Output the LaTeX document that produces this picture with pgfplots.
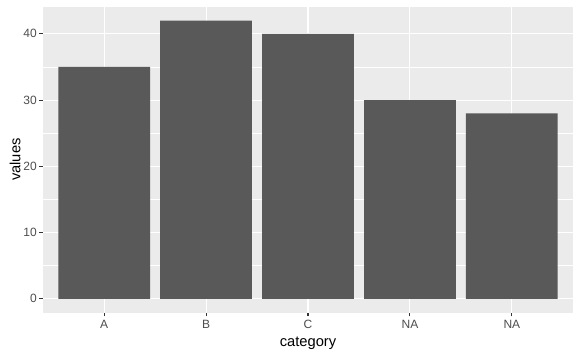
\documentclass[border=0pt]{standalone}
\usepackage{pgfplots}
\pgfplotsset{compat=1.18}
\usepackage{fontspec}
\setmainfont{Liberation Sans}
\definecolor{panelbg}{HTML}{EBEBEB}
\definecolor{barfill}{HTML}{595959}
\definecolor{ticktext}{HTML}{4D4D4D}
\definecolor{tickline}{HTML}{333333}
\begin{document}
\begin{tikzpicture}[x=1pt,y=1pt]
\begin{axis}[
  at={(0,0)}, anchor=south west,
  scale only axis,
  width=530pt, height=306pt,
  xmin=0.4, xmax=5.6,
  ymin=-2.1, ymax=44.1,
  xtick={1,2,3,4,5},
  xticklabels={A,B,C,NA,NA},
  ytick={0,10,20,30,40},
  minor ytick={5,15,25,35},
  xtick pos=bottom, ytick pos=left,
  xmajorgrids, ymajorgrids, yminorgrids,
  major grid style={white, line width=1.07pt},
  minor grid style={white, line width=0.53pt},
  axis background/.style={fill=panelbg},
  axis line style={draw=none},
  tick align=outside,
  major tick length=3.7pt,
  minor tick length=0pt,
  tick style={tickline, line width=1.07pt},
  ticklabel style={font=\fontsize{12}{13}\selectfont, text=ticktext},
  xticklabel style={yshift=0pt},
  yticklabel style={xshift=1pt},
  xlabel={category}, ylabel={values},
  label style={font=\fontsize{14.7}{16}\selectfont, text=black},
  xlabel style={yshift=-2pt},
  ylabel style={yshift=-4pt},
  /pgf/number format/assume math mode=true,
  ybar, bar width=0.9, bar shift=0pt,
]
\addplot[fill=barfill, draw=none] coordinates {(1,35) (2,42) (3,40) (4,30) (5,28)};
\end{axis}
\path[use as bounding box] (-43,-42.3) rectangle (538,312.7);
\end{tikzpicture}
\end{document}
